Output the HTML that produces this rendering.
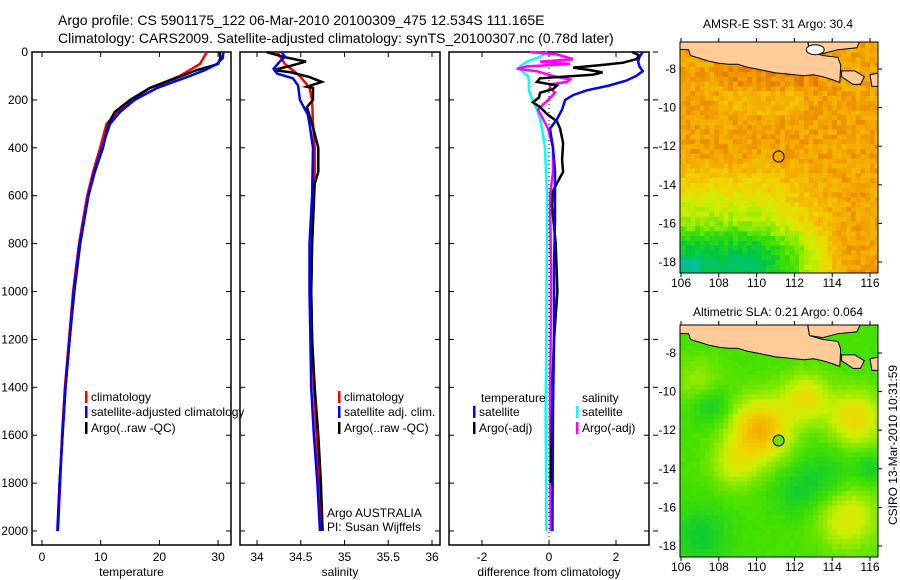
<!DOCTYPE html>
<html><head><meta charset="utf-8"><style>
html,body{margin:0;padding:0;background:#fff}
svg{display:block;font-family:"Liberation Sans",sans-serif}
</style></head><body>
<svg id="fig" width="900" height="580" viewBox="0 0 900 580" xmlns="http://www.w3.org/2000/svg">
<rect width="900" height="580" fill="#fff"/>
<text x="58" y="25" font-size="14">Argo profile: CS 5901175_122 06-Mar-2010 20100309_475 12.534S 111.165E</text>
<text x="58" y="43" font-size="14">Climatology: CARS2009. Satellite-adjusted climatology: synTS_20100307.nc (0.78d later)</text>
<g id="p1"></g>
<g id="p2"></g>
<g id="p3"></g>
<g id="m1"></g>
<g id="m2"></g>
<text transform="translate(897,445) rotate(-90)" text-anchor="middle" font-size="12">CSIRO 13-Mar-2010 10:31:59</text>
</svg>
<script>
// ---- profile data (depth in m) ----
const tClimDepth=[0,50,100,150,200,250,300,400,500,600,800,1000,1200,1400,1600,1800,2000];
const tClimVal=[28.1,26.9,23.5,18.4,15.3,12.8,11,9.9,8.7,7.7,6.3,5.3,4.6,3.9,3.4,3.1,2.7];
const tSatDepth=[0,25,50,75,100,125,150,200,250,300,400,500,600,800,1000,1200,1400,1600,1800,2000];
const tSatVal=[30.9,30.8,29.8,27.8,25.2,22.4,19.6,15.8,13.3,11.6,10.2,8.9,7.9,6.4,5.4,4.7,4.0,3.5,3.0,2.6];
const tArgoDepth=[0,25,50,60,75,100,130,150,200,250,300,400,500,600,800,1000,1200,1400,1600,1800,2000];
const tArgoVal=[30.3,30.4,30.0,28.6,26.4,23.8,20.6,18.4,15.0,12.4,11.3,10.4,9.0,7.9,6.5,5.5,4.7,4.0,3.5,3.0,2.7];
const sClimDepth=[0,50,100,150,200,300,400,500,600,800,1000,1200,1400,1600,1800,2000];
const sClimVal=[34.23,34.32,34.49,34.60,34.63,34.64,34.66,34.66,34.65,34.63,34.62,34.63,34.65,34.68,34.71,34.74];
const sSatDepth=[0,20,40,70,90,110,140,200,220,260,300,400,600,800,1000,1200,1400,1600,1800,2000];
const sSatVal=[34.28,34.32,34.26,34.19,34.23,34.41,34.47,34.49,34.52,34.58,34.60,34.64,34.63,34.60,34.60,34.61,34.62,34.65,34.69,34.72];
const sArgoDepth=[0,20,40,60,75,85,105,125,145,150,200,230,300,400,500,550,800,1000,1200,1400,1600,1800,2000];
const sArgoVal=[34.11,34.30,34.56,34.36,34.19,34.39,34.60,34.74,34.57,34.64,34.64,34.57,34.63,34.70,34.70,34.66,34.63,34.62,34.63,34.66,34.70,34.73,34.75];
const dTSatDepth=[0,20,40,60,80,100,120,140,160,180,200,240,280,320,400,500,600,700,900,1200,1500,2000];
const dTSatVal=[2.8,2.7,2.66,2.7,2.8,2.6,2.3,1.8,1.13,0.72,0.48,0.39,0.24,0.03,0.12,0.18,0.18,0.18,0.15,0.15,0.12,0.1];
const dSSatDepth=[0,20,40,60,80,100,120,160,200,240,280,320,400,600,900,1200,1500,2000];
const dSSatVal=[-0.06,-0.27,-0.66,-0.87,-0.81,-0.63,-0.6,-0.6,-0.5,-0.36,-0.27,-0.21,-0.12,-0.06,-0.07,-0.08,-0.1,-0.08];
const dSArgoDepth=[0,10,30,40,50,60,70,80,100,115,125,135,150,170,200,240,280,320,400,500,600,900,1200,1500,2000];
const dSArgoVal=[-0.57,0.24,0.72,-0.27,0.63,-0.66,-0.96,-0.36,0.12,0.63,0.54,0.03,0.03,0.18,-0.03,-0.33,-0.18,-0.03,0.12,0.12,0.03,0.06,0.05,0.03,0.05];
const dTArgoDepth=[0,15,30,45,55,65,75,85,95,110,125,140,155,170,190,210,230,260,290,320,380,450,500,540,580,640,800,1000,1200,1400,1600,1800];
const dTArgoVal=[2.48,2.7,2.6,2.2,1.5,0.72,1.2,1.6,1.3,-0.27,-0.36,0.24,0.12,-0.27,-0.3,-0.48,-0.27,-0.05,0.24,0.33,0.42,0.39,0.42,0.27,0.12,0.09,0.2,0.25,0.15,0.1,0.08,0.05];
const depthTicks=[0,200,400,600,800,1000,1200,1400,1600,1800,2000];
const tempTicks=[0,10,20,30];
const salTicks=[34,34.5,35,35.5,36];
const diffTicks=[-2,0,2];

const NS="http://www.w3.org/2000/svg";
function mk(parent,tag,attrs,txt){const e=document.createElementNS(NS,tag);for(const k in attrs)e.setAttribute(k,attrs[k]);if(txt!==undefined)e.textContent=txt;parent.appendChild(e);return e;}
const Y=d=>52+d*0.2395;

function panel(g,x0,x1,xf,ticks,label,labelName,yLabels){
  mk(g,'rect',{x:x0,y:52,width:x1-x0,height:493,fill:'none',stroke:'#000','stroke-width':1.5});
  depthTicks.forEach(d=>{
    mk(g,'line',{x1:x0,x2:x0+5,y1:Y(d),y2:Y(d),stroke:'#000'});
    mk(g,'line',{x1:x1-5,x2:x1,y1:Y(d),y2:Y(d),stroke:'#000'});
    if(yLabels){const t=mk(g,'text',{x:28,y:Y(d)+4,'text-anchor':'end','font-size':12},String(d));
      
      }
  });
  ticks.forEach(v=>{const x=xf(v);
    mk(g,'line',{x1:x,x2:x,y1:52,y2:57,stroke:'#000'});
    mk(g,'line',{x1:x,x2:x,y1:540,y2:545,stroke:'#000'});
    const t=mk(g,'text',{x:x,y:561,'text-anchor':'middle','font-size':12},String(v));
    
    
  });
  const t=mk(g,'text',{x:(x0+x1)/2,y:576,'text-anchor':'middle','font-size':12},label);
  
  
}
function series(g,xf,depths,vals,color,name){
  const pts=depths.map((d,i)=>xf(vals[i]).toFixed(1)+','+Y(d).toFixed(1)).join(' ');
  const p=mk(g,'polyline',{points:pts,fill:'none',stroke:color,'stroke-width':2.5,'stroke-linejoin':'miter'});
  
  
}
function legend(g,x,y,color,text){
  mk(g,'rect',{x:x,y:y-6,width:2.5,height:12,fill:color});
  const t=mk(g,'text',{x:x+6,y:y+4,'font-size':12},text);
  
  
}
// panel 1
const g1=document.getElementById('p1');
const xT=v=>42+v*5.87;
panel(g1,32,231,xT,tempTicks,'temperature','x-axis-title-temperature',true);
series(g1,xT,tClimDepth,tClimVal,'#f00','temp-climatology-line');
series(g1,xT,tArgoDepth,tArgoVal,'#000','temp-argo-line');
series(g1,xT,tSatDepth,tSatVal,'#00f','temp-satellite-line');
legend(g1,85,397,'#f00','climatology');
legend(g1,85,412,'#00f','satellite-adjusted climatology');
legend(g1,85,428,'#000','Argo(..raw -QC)');
// panel 2
const g2=document.getElementById('p2');
const xS=v=>257+(v-34)*87.5;
panel(g2,240,440,xS,salTicks,'salinity','x-axis-title-salinity',false);
series(g2,xS,sClimDepth,sClimVal,'#f00','sal-climatology-line');
series(g2,xS,sArgoDepth,sArgoVal,'#000','sal-argo-line');
series(g2,xS,sSatDepth,sSatVal,'#00f','sal-satellite-line');
legend(g2,338,397,'#f00','climatology');
legend(g2,338,412,'#00f','satellite adj. clim.');
legend(g2,338,428,'#000','Argo(..raw -QC)');
mk(g2,'text',{x:327,y:517,'font-size':12},'Argo AUSTRALIA');
mk(g2,'text',{x:327,y:531,'font-size':12},'PI: Susan Wijffels');
// panel 3
const g3=document.getElementById('p3');
const xD=v=>549+v*33.5;
panel(g3,449,649,xD,diffTicks,'difference from climatology','x-axis-title-difference',false);
depthTicks.forEach(d=>mk(g3,'line',{x1:653,x2:658,y1:Y(d),y2:Y(d),stroke:'#000'}));
mk(g3,'line',{x1:549,x2:549,y1:60,y2:540,stroke:'#000','stroke-dasharray':'1,3'});
series(g3,xD,dSSatDepth,dSSatVal,'#0ff','diff-sal-satellite-line');
series(g3,xD,dSArgoDepth,dSArgoVal,'#f0f','diff-sal-argo-line');
series(g3,xD,dTArgoDepth,dTArgoVal,'#000','diff-temp-argo-line');
series(g3,xD,dTSatDepth,dTSatVal,'#00f','diff-temp-satellite-line');
mk(g3,'text',{x:481,y:402,'font-size':12},'temperature');
mk(g3,'text',{x:582,y:402,'font-size':12},'salinity');
legend(g3,473,412,'#00f','satellite');
legend(g3,473,428,'#000','Argo(-adj)');
legend(g3,576,412,'#0ff','satellite');
legend(g3,576,428,'#f0f','Argo(-adj)');

// ---- maps (image texture) ----
const cmap=[[0.05,[0,190,170]],[0.2,[0,200,60]],[0.35,[70,225,0]],[0.5,[200,240,0]],[0.6,[240,215,0]],[0.72,[245,170,0]],[0.82,[228,115,0]],[0.95,[175,25,0]]];
function col(v){
  if(v<=cmap[0][0])return 'rgb('+cmap[0][1]+')';
  for(let i=1;i<cmap.length;i++){if(v<=cmap[i][0]){const a=cmap[i-1],b=cmap[i],f=(v-a[0])/(b[0]-a[0]);
    return 'rgb('+a[1].map((c,k)=>Math.round(c+(b[1][k]-c)*f)).join(',')+')';}}
  return 'rgb('+cmap[cmap.length-1][1]+')';
}
function hash(i,j){const s=Math.sin(i*127.1+j*311.7)*43758.5;return s-Math.floor(s);}
const clamp=(v,a,b)=>Math.max(a,Math.min(b,v));
function sst(lon,lat,i,j){
  let v=0.73-0.45*clamp((-lat-12.5)/5.5,0,1)*clamp((114.5-lon)/4.5,0,1);
  v-=0.12*clamp((-lat-15.8)/1.5,0,1)*clamp((115-lon)/3,0,1);
  if(lon<107&&lat<-17.8)v-=0.1;
  if(lat>-9.0&&lon>108&&lon<113.5)v+=0.04;
  if(lat>-10.3&&lat<-9.2&&lon>108&&lon<112.5)v-=0.04;
  v+=(hash(i,j)-0.5)*0.1;
  return v;
}
const blobs=[[110.2,-12,0.35,1.6],[112.6,-10.3,0.22,1.2],[115.2,-11.4,0.25,1.4],[114.8,-16.5,0.2,1.6],[108.8,-13.8,0.15,1.2],[107,-9.5,0.1,1.2],
  [107.6,-10.7,-0.12,1.0],[107,-17.5,-0.12,1.5],[113.5,-14.5,-0.1,1.5],[116,-14,-0.1,0.8],[112,-15.3,-0.08,1.2]];
function sla(lon,lat,i,j){
  let v=0.35;
  blobs.forEach(b=>{const d2=((lon-b[0])**2+(lat-b[1])**2)/(b[3]*b[3]);v+=b[2]*Math.exp(-d2);});
  v+=(hash(i,j)-0.5)*0.02;
  return v;
}
const java=[[105,-6.5],[105,-6.95],[106.4,-7.0],[106.5,-7.3],[107,-7.45],[107.5,-7.6],[108,-7.7],[108.5,-7.75],[109,-7.75],[109.5,-7.9],[110,-8.0],[110.5,-8.1],[111,-8.2],[111.5,-8.25],[112,-8.3],[112.5,-8.35],[113,-8.3],[113.5,-8.4],[114,-8.55],[114.4,-8.7],[114.45,-7.8],[114.3,-7.4],[113.5,-7.3],[112.8,-7.1],[112.7,-6.5]];
const bali=[[114.5,-8.1],[115.2,-8.1],[115.7,-8.4],[115.5,-8.8],[115.1,-8.8],[114.5,-8.4]];
const lombok=[[116,-8.3],[116.5,-8.2],[116.5,-8.9],[116.1,-8.9]];
const madura=[[112.7,-6.5],[115.5,-6.5],[115.3,-6.9],[114.3,-7.0],[113.5,-7.2],[112.8,-7.1]];
function drawMap(gid,top,title,titleY,fn,dotColor,labelY,mapName){
  const g=document.getElementById(gid);
  const L=680,R=878,B=top===42?273:557,y8=top===42?69:353;
  const X=lon=>681+(lon-106)*18.9, Yl=lat=>y8+(-8-lat)*19.3;
  const cid='clip'+gid;
  const cp=mk(mk(g,'defs',{}),'clipPath',{id:cid});mk(cp,'rect',{x:L,y:top,width:R-L,height:B-top});
  const inner=mk(g,'g',{'clip-path':'url(#'+cid+')'});
  const step=0.25;
  let i=0;
  for(let lon=105.75;lon<116.6;lon+=step,i++){let j=0;
    for(let lat=-6.4;lat>-18.8;lat-=step,j++){
      mk(inner,'rect',{x:X(lon).toFixed(1),y:Yl(lat).toFixed(1),width:(step*18.9+0.6).toFixed(1),height:(step*19.3+0.6).toFixed(1),fill:col(fn(lon+step/2,lat-step/2,i,j))});
    }}
  const poly=(pts,fill,name)=>{const p=mk(inner,'polygon',{points:pts.map(p=>X(p[0]).toFixed(1)+','+Yl(p[1]).toFixed(1)).join(' '),fill:fill,stroke:'#000','stroke-width':1});
    
    };
  poly(java,'#ffcc99','java-land');poly(madura,'#ffcc99','madura-land');poly(bali,'#ffcc99','bali-land');poly(lombok,'#ffcc99','lombok-land');
  if(top===42)mk(inner,'ellipse',{cx:X(113.1),cy:Yl(-7.0),rx:9,ry:5,fill:'#fff',stroke:'#000'});
  const dot=mk(g,'circle',{cx:X(111.165),cy:Yl(-12.534),r:5.5,fill:dotColor,stroke:'#000','stroke-width':1});
  
  
  mk(g,'rect',{x:L,y:top,width:R-L,height:B-top,fill:'none',stroke:'#000','stroke-width':1});
  [106,108,110,112,114,116].forEach(lon=>{const x=X(lon);
    mk(g,'line',{x1:x,x2:x,y1:top-4,y2:top,stroke:'#000'});
    mk(g,'line',{x1:x,x2:x,y1:B,y2:B+4,stroke:'#000'});
    const t=mk(g,'text',{x:x,y:labelY,'text-anchor':'middle','font-size':12},String(lon));
    
    });
  [-8,-10,-12,-14,-16,-18].forEach(lat=>{const y=Yl(lat);
    mk(g,'line',{x1:R,x2:R+4,y1:y,y2:y,stroke:'#000'});
    const t=mk(g,'text',{x:676,y:y+4,'text-anchor':'end','font-size':12},String(lat));
    
    });
  const tt=mk(g,'text',{x:778,y:titleY,'text-anchor':'middle','font-size':12},title);
  
  
}
drawMap('m1',42,'AMSR-E SST: 31 Argo: 30.4',28,sst,'#f2a800',287,'sst-map');
drawMap('m2',325,'Altimetric SLA: 0.21 Argo: 0.064',316,sla,'#70dd10',571,'sla-map');
</script>
</body></html>
